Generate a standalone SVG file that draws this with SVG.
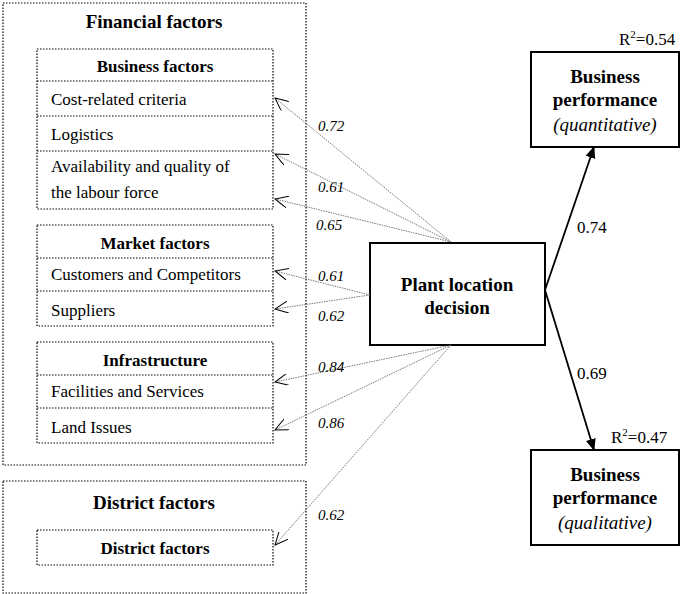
<svg xmlns="http://www.w3.org/2000/svg" width="685" height="594" viewBox="0 0 685 594" font-family="'Liberation Serif','Times New Roman',serif">
<style>
text{font-family:"Liberation Serif","Times New Roman",serif;fill:#000}
.b{font-weight:bold}
.t{font-size:17px}
.h{font-size:19px}
.l{font-size:15px;font-style:italic}
.dot{fill:none;stroke:#000;stroke-width:1.2;stroke-dasharray:1.5 1.5}
.solid{fill:#fff;stroke:#000;stroke-width:2}
.c{stroke:#555;stroke-width:0.8;stroke-dasharray:1.5 1;fill:none;marker-end:url(#open)}
.s{stroke:#000;stroke-width:1.8;fill:none;marker-end:url(#fill)}
</style>
<defs>
<marker id="open" markerWidth="14" markerHeight="12" refX="13" refY="6" orient="auto" markerUnits="userSpaceOnUse"><path d="M0,0 L13,6 L0,12" fill="none" stroke="#000" stroke-width="1"/></marker>
<marker id="fill" markerWidth="12" markerHeight="12" refX="11" refY="6" orient="auto" markerUnits="userSpaceOnUse"><path d="M0,1 L12,6 L0,11 z" fill="#000"/></marker>
</defs>
<rect width="685" height="594" fill="#fff"/>
<g id="financial">
<rect class="dot" x="3" y="3" width="303" height="462"/>
<text class="b h" x="154" y="28" text-anchor="middle">Financial factors</text>
</g>
<g id="business-factors">
<rect class="dot" x="37" y="49" width="236" height="160"/>
<path class="dot" d="M37,81H273M37,116H273M37,151H273"/>
<text class="b t" x="155" y="72" text-anchor="middle">Business factors</text>
<text class="t" x="51" y="105">Cost-related criteria</text>
<text class="t" x="51" y="140">Logistics</text>
<text class="t" x="51" y="172">Availability and quality of</text>
<text class="t" x="51" y="198">the labour force</text>
</g>
<g id="market-factors">
<rect class="dot" x="37" y="225" width="236" height="101"/>
<path class="dot" d="M37,258H273M37,291H273"/>
<text class="b t" x="155" y="249" text-anchor="middle">Market factors</text>
<text class="t" x="51" y="280">Customers and Competitors</text>
<text class="t" x="51" y="316">Suppliers</text>
</g>
<g id="infrastructure">
<rect class="dot" x="37" y="342" width="236" height="101"/>
<path class="dot" d="M37,375H273M37,408H273"/>
<text class="b t" x="155" y="366" text-anchor="middle">Infrastructure</text>
<text class="t" x="51" y="397">Facilities and Services</text>
<text class="t" x="51" y="433">Land Issues</text>
</g>
<g id="district">
<rect class="dot" x="3" y="481" width="303" height="112"/>
<text class="b h" x="154" y="509" text-anchor="middle">District factors</text>
<rect class="dot" x="37" y="530" width="236" height="35"/>
<text class="b t" x="155" y="554" text-anchor="middle">District factors</text>
</g>
<g id="plant">
<rect class="solid" x="370" y="243" width="175" height="102"/>
<text class="b h" x="457" y="291" text-anchor="middle">Plant location</text>
<text class="b h" x="457" y="314" text-anchor="middle">decision</text>
</g>
<g id="perf-quant">
<rect class="solid" x="531" y="52" width="148" height="95"/>
<text class="b h" x="605" y="83" text-anchor="middle">Business</text>
<text class="b h" x="605" y="106" text-anchor="middle">performance</text>
<text class="h" x="605" y="131" text-anchor="middle" font-style="italic">(quantitative)</text>
<text class="t" x="619" y="45">R<tspan font-size="11" dy="-7">2</tspan><tspan dy="7">=0.54</tspan></text>
</g>
<g id="perf-qual">
<rect class="solid" x="531" y="450" width="148" height="95"/>
<text class="b h" x="605" y="481" text-anchor="middle">Business</text>
<text class="b h" x="605" y="504" text-anchor="middle">performance</text>
<text class="h" x="605" y="529" text-anchor="middle" font-style="italic">(qualitative)</text>
<text class="t" x="611" y="443">R<tspan font-size="11" dy="-7">2</tspan><tspan dy="7">=0.47</tspan></text>
</g>
<g id="connectors">
<path class="c" d="M451,242L275,98"/>
<path class="c" d="M451,242L275,154"/>
<path class="c" d="M451,242L275,199"/>
<path class="c" d="M370,295L275,271"/>
<path class="c" d="M370,295L275,309"/>
<path class="c" d="M451,345L275,382"/>
<path class="c" d="M451,345L275,430"/>
<path class="c" d="M451,345L275,545"/>
<path class="s" d="M545,290L594,147"/>
<path class="s" d="M545,290L594,450"/>
<text class="l" x="318" y="131">0.72</text>
<text class="l" x="318" y="192">0.61</text>
<text class="l" x="316" y="230">0.65</text>
<text class="l" x="318" y="281">0.61</text>
<text class="l" x="318" y="321">0.62</text>
<text class="l" x="318" y="372">0.84</text>
<text class="l" x="318" y="428">0.86</text>
<text class="l" x="318" y="520">0.62</text>
<text class="t" x="577" y="233">0.74</text>
<text class="t" x="577" y="379">0.69</text>
</g>
</svg>
